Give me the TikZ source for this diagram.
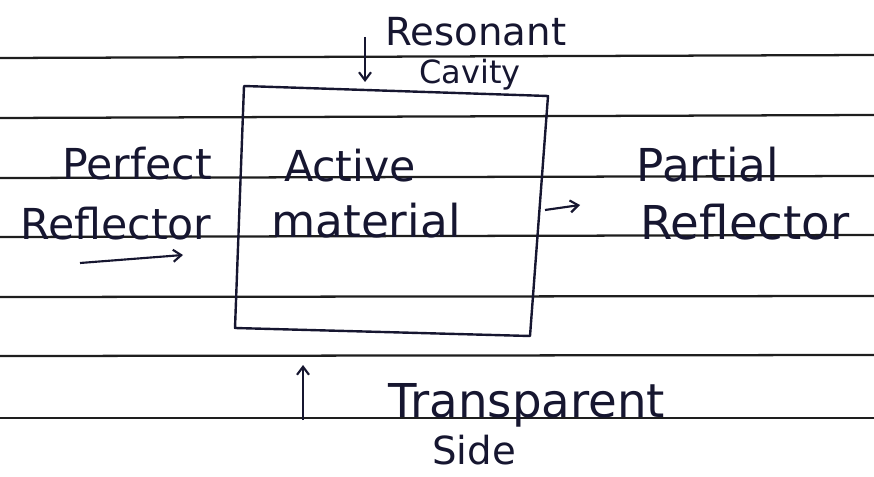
\documentclass[tikz,border=0pt]{standalone}
\usepackage{fontspec}
\setmainfont{DejaVu Sans}
\usepackage{tikz}
\usetikzlibrary{arrows.meta}

\definecolor{ink}{RGB}{22,22,48}
\definecolor{rule}{RGB}{30,30,30}

\tikzset{
  hand/.style={font=\fontsize{32}{36}\selectfont, text=ink, inner sep=0.75pt, anchor=base},
  small hand/.style={hand, font=\fontsize{24}{28}\selectfont},
  big hand/.style={hand, font=\fontsize{35}{40}\selectfont},
  inkline/.style={line width=1.8pt, draw=ink, line join=round},
  ruled/.style={line width=1.7pt, draw=rule},
  inkarrow/.style={line width=1.6pt, draw=ink, -{Straight Barb[length=6pt,width=9pt]}}
}

\begin{document}
\begin{tikzpicture}[x=0.75pt,y=0.75pt,yscale=-1,xscale=1]
\useasboundingbox (0,0) rectangle (874,477);

%Ruled lines of the page
\foreach \y/\d in {58/-3, 118/-3, 178/-2, 237/-2, 297/-1, 356/-1, 418/0}
  \draw[ruled] (0,\y) -- (874,\y+\d);

%Resonant cavity (box)
\coordinate (tl) at (244,86);
\coordinate (tr) at (548,96);
\coordinate (br) at (530,336);
\coordinate (bl) at (235,328);
\draw[inkline] (tl) -- (tr) -- (br) -- (bl) -- cycle;

% Text Node
\node[hand, font=\fontsize{29}{33}\selectfont] (resonant) at (476,46) {Resonant};
% Text Node
\node[small hand] (cavity) at (470,84) {Cavity};
% Text Node
\node[hand] (perfect) at (137,180) {Perfect};
% Text Node
\node[hand] (reflA) at (116,240) {Reflector};
% Text Node
\node[hand] (active) at (350,182) {Active};
% Text Node
\node[hand, font=\fontsize{34}{38}\selectfont] (material) at (366,238) {material};
% Text Node
\node[hand, font=\fontsize{34}{38}\selectfont] (partial) at (708,182) {Partial};
% Text Node
\node[big hand] (reflB) at (745,240) {Reflector};
% Text Node
\node[big hand] (transparent) at (527,417) {Transparent};
% Text Node
\node[hand, font=\fontsize{29}{33}\selectfont] (side) at (474,464) {Side};

%Arrows
\coordinate (cavS) at (365,37);
\coordinate (cavE) at (365,82);
\draw[inkarrow] (cavS) -- (cavE);

\coordinate (inS) at (80,263);
\coordinate (inE) at (183,255);
\draw[inkarrow] (inS) -- (inE);

\coordinate (outS) at (545,210);
\coordinate (outE) at (580,205);
\draw[inkarrow] (outS) -- (outE);

\coordinate (sideS) at (303,420);
\coordinate (sideE) at (303,365);
\draw[inkarrow] (sideS) -- (sideE);

\end{tikzpicture}
\end{document}
